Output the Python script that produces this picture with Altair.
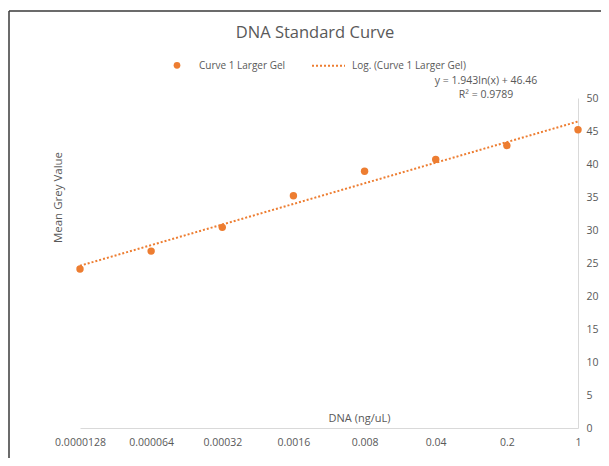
import altair as alt
import pandas as pd

# ---- data ----
x_labels = ["0.0000128", "0.000064", "0.00032", "0.0016", "0.008", "0.04", "0.2", "1"]
x_vals = [float(s) for s in x_labels]
grey_vals = [24.1, 26.8, 30.4, 35.2, 38.9, 40.7, 42.8, 45.2]
y_ticks = [0, 5, 10, 15, 20, 25, 30, 35, 40, 45, 50]

chart_title = "DNA Standard Curve"
series_name = "Curve 1 Larger Gel"
trend_name = "Log. (Curve 1 Larger Gel)"
equation = "y = 1.943ln(x) + 46.46"
r_squared = "R\u00b2 = 0.9789"
x_title = "DNA (ng/uL)"
y_title = "Mean Grey Value"

ORANGE = "#ED7D31"
TXT = "#595959"
FONT = "Open Sans"

PW, PH = 498, 330          # plot area size
PADL, PADT = 72, 90        # plot origin inside the svg (page = +8)

df = pd.DataFrame({"dna": x_vals, "grey": grey_vals})

vals_js = "[" + ",".join(repr(v) for v in x_vals) + "]"
labs_js = "[" + ",".join("'" + s + "'" for s in x_labels) + "]"
label_expr = f"{labs_js}[indexof({vals_js}, datum.value)]"

x_enc = alt.X(
    "dna:Q",
    scale=alt.Scale(type="log", domain=[x_vals[0], x_vals[-1]], nice=False),
    axis=alt.Axis(
        values=x_vals,
        labelExpr=label_expr,
        ticks=False,
        grid=False,
        domainColor="#d9d9d9",
        domainWidth=1,
        labelColor=TXT,
        labelFont=FONT,
        labelFontSize=10.5,
        labelPadding=9,
        labelOverlap=False,
        labelFlush=False,
        title=x_title,
        titleFont=FONT,
        titleFontSize=11,
        titleFontWeight="normal",
        titleColor=TXT,
        titleX=279,
        titleY=-10,
        titleAlign="center",
        titleBaseline="middle",
    ),
)
y_enc = alt.Y(
    "grey:Q",
    scale=alt.Scale(domain=[0, 50], nice=False),
    axis=alt.Axis(
        orient="right",
        values=y_ticks,
        ticks=False,
        grid=False,
        domainColor="#d9d9d9",
        domainWidth=1,
        labelColor=TXT,
        labelFont=FONT,
        labelFontSize=10.5,
        labelAlign="left",
        labelPadding=8,
        labelFlush=False,
        title=y_title,
        titleFont=FONT,
        titleFontSize=11.5,
        titleFontWeight="normal",
        titleColor=TXT,
        titleAngle=270,
        titleX=-520,
        titleY=99,
        titleAlign="center",
        titleBaseline="middle",
    ),
)

base = alt.Chart(df)

trend = base.transform_regression(
    "dna", "grey", method="log", extent=[x_vals[0], x_vals[-1]]
).mark_line(color=ORANGE, strokeDash=[2, 2], strokeWidth=2).encode(x=x_enc, y=y_enc)

points = base.mark_circle(size=55, color=ORANGE, opacity=1).encode(x=x_enc, y=y_enc)


def text_layer(txt, x, y, size, align="left", baseline="middle"):
    return alt.Chart(pd.DataFrame({"t": [txt]})).mark_text(
        font=FONT, fontSize=size, color=TXT, align=align, baseline=baseline
    ).encode(text="t:N", x=alt.value(x), y=alt.value(y))


one = pd.DataFrame({"k": [0]})
frame_top = alt.Chart(one).mark_rule(color="#3a3a3a", strokeWidth=1.5).encode(
    x=alt.value(-71), x2=alt.value(530), y=alt.value(-87)
)
frame_left = alt.Chart(one).mark_rule(color="#3a3a3a", strokeWidth=1.5).encode(
    x=alt.value(-71), y=alt.value(-87), y2=alt.value(400)
)

legend_dot = alt.Chart(one).mark_circle(size=45, color=ORANGE, opacity=1).encode(
    x=alt.value(97), y=alt.value(-32.7)
)
legend_line = alt.Chart(one).mark_rule(color=ORANGE, strokeDash=[2, 2], strokeWidth=2).encode(
    x=alt.value(232), x2=alt.value(265), y=alt.value(-32.3)
)

layers = [
    frame_top,
    frame_left,
    trend,
    points,
    text_layer(chart_title, 235, -60, 16.5, align="center", baseline="alphabetic"),
    legend_dot,
    text_layer(series_name, 119, -32.5, 10),
    legend_line,
    text_layer(trend_name, 272, -32.5, 10),
    text_layer(equation, 406, -17.3, 10.5, align="center"),
    text_layer(r_squared, 406, -3.3, 10.5, align="center"),
]

chart = alt.layer(*layers).properties(
    width=PW,
    height=PH,
    autosize=alt.AutoSizeParams(type="none"),
    padding={"left": PADL, "top": PADT, "right": 593 - PADL - PW, "bottom": 30},
    background="white",
).configure_view(stroke=None)

chart.save("out.html", embed_options={"renderer": "svg", "actions": False})
